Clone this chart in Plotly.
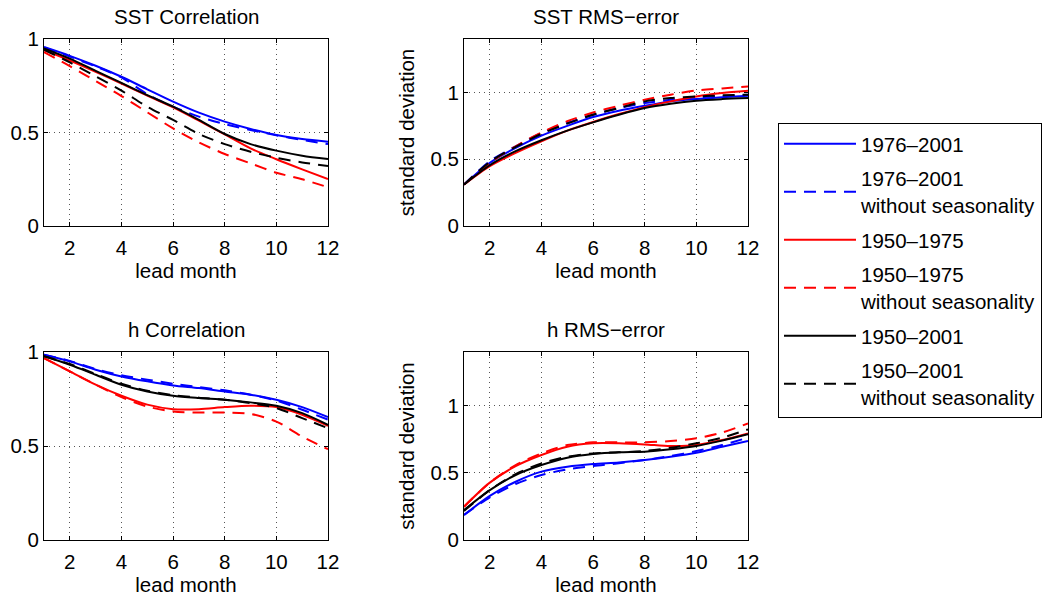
import plotly.graph_objects as go

# ---------------- data ----------------
lead_month = [1, 2, 3, 4, 5, 6, 7, 8, 9, 10, 11, 12]

series_names = [
    "1976–2001",
    "1976–2001<br>without seasonality",
    "1950–1975",
    "1950–1975<br>without seasonality",
    "1950–2001",
    "1950–2001<br>without seasonality",
]

# SST correlation
sst_corr_7601 = [0.957, 0.910, 0.857, 0.798, 0.731, 0.665, 0.606, 0.558, 0.519, 0.487, 0.465, 0.451]
sst_corr_7601_ns = [0.955, 0.906, 0.853, 0.795, 0.705, 0.638, 0.585, 0.545, 0.513, 0.485, 0.460, 0.438]
sst_corr_5075 = [0.940, 0.885, 0.825, 0.762, 0.697, 0.634, 0.563, 0.490, 0.415, 0.357, 0.303, 0.251]
sst_corr_5075_ns = [0.930, 0.855, 0.775, 0.695, 0.608, 0.522, 0.447, 0.385, 0.335, 0.285, 0.250, 0.207]
sst_corr_5001 = [0.950, 0.895, 0.830, 0.765, 0.700, 0.638, 0.567, 0.492, 0.438, 0.403, 0.376, 0.358]
sst_corr_5001_ns = [0.943, 0.875, 0.800, 0.724, 0.638, 0.567, 0.492, 0.438, 0.397, 0.365, 0.340, 0.321]

# SST RMS-error (in standard deviations)
sst_rms_7601 = [0.31, 0.473, 0.585, 0.677, 0.750, 0.816, 0.863, 0.900, 0.933, 0.950, 0.963, 0.975]
sst_rms_7601_ns = [0.31, 0.485, 0.597, 0.697, 0.771, 0.833, 0.883, 0.920, 0.945, 0.963, 0.973, 0.983]
sst_rms_5075 = [0.31, 0.448, 0.547, 0.634, 0.714, 0.779, 0.838, 0.890, 0.933, 0.970, 0.995, 1.012]
sst_rms_5075_ns = [0.31, 0.473, 0.597, 0.700, 0.784, 0.850, 0.900, 0.945, 0.983, 1.015, 1.030, 1.045]
sst_rms_5001 = [0.31, 0.455, 0.560, 0.642, 0.714, 0.776, 0.833, 0.883, 0.915, 0.938, 0.950, 0.958]
sst_rms_5001_ns = [0.31, 0.480, 0.592, 0.690, 0.767, 0.833, 0.883, 0.933, 0.958, 0.970, 0.978, 0.983]

# h correlation
h_corr_7601 = [0.986, 0.950, 0.906, 0.870, 0.844, 0.822, 0.808, 0.790, 0.773, 0.746, 0.707, 0.654]
h_corr_7601_ns = [0.986, 0.953, 0.909, 0.876, 0.853, 0.831, 0.813, 0.796, 0.773, 0.742, 0.693, 0.640]
h_corr_5075 = [0.968, 0.897, 0.826, 0.767, 0.720, 0.696, 0.696, 0.707, 0.714, 0.707, 0.666, 0.607]
h_corr_5075_ns = [0.968, 0.897, 0.826, 0.760, 0.710, 0.684, 0.678, 0.678, 0.671, 0.630, 0.550, 0.483]
h_corr_5001 = [0.977, 0.932, 0.879, 0.826, 0.790, 0.767, 0.755, 0.746, 0.732, 0.714, 0.675, 0.613]
h_corr_5001_ns = [0.977, 0.936, 0.883, 0.831, 0.794, 0.771, 0.757, 0.746, 0.728, 0.702, 0.648, 0.595]

# h RMS-error (in standard deviations)
h_rms_7601 = [0.186, 0.328, 0.434, 0.509, 0.546, 0.566, 0.578, 0.596, 0.620, 0.650, 0.695, 0.737]
h_rms_7601_ns = [0.186, 0.318, 0.417, 0.484, 0.526, 0.551, 0.571, 0.596, 0.625, 0.662, 0.707, 0.762]
h_rms_5075 = [0.248, 0.427, 0.550, 0.633, 0.695, 0.720, 0.720, 0.712, 0.700, 0.707, 0.744, 0.794]
h_rms_5075_ns = [0.248, 0.427, 0.558, 0.645, 0.707, 0.727, 0.727, 0.727, 0.737, 0.757, 0.800, 0.868]
h_rms_5001 = [0.223, 0.372, 0.484, 0.558, 0.613, 0.640, 0.653, 0.658, 0.675, 0.700, 0.740, 0.787]
h_rms_5001_ns = [0.216, 0.372, 0.491, 0.570, 0.620, 0.645, 0.653, 0.663, 0.687, 0.720, 0.762, 0.824]

x_tick_vals = [2, 4, 6, 8, 10, 12]
y_tick_vals = [0, 0.5, 1]
y_tick_text = ["0", "0.5", "1"]

panel_titles = ["SST Correlation", "SST RMS−error", "h Correlation", "h RMS−error"]
x_label = "lead month"
y_label_rms = "standard deviation"

panels = [
    [sst_corr_7601, sst_corr_7601_ns, sst_corr_5075, sst_corr_5075_ns, sst_corr_5001, sst_corr_5001_ns],
    [sst_rms_7601, sst_rms_7601_ns, sst_rms_5075, sst_rms_5075_ns, sst_rms_5001, sst_rms_5001_ns],
    [h_corr_7601, h_corr_7601_ns, h_corr_5075, h_corr_5075_ns, h_corr_5001, h_corr_5001_ns],
    [h_rms_7601, h_rms_7601_ns, h_rms_5075, h_rms_5075_ns, h_rms_5001, h_rms_5001_ns],
]

# ---------------- styles ----------------
colors = ["#0000ff", "#0000ff", "#ff0000", "#ff0000", "#000000", "#000000"]
dashes = ["solid", "12px,8px", "solid", "12px,8px", "solid", "12px,8px"]
FONT = "Liberation Sans, Arial, Helvetica, sans-serif"
FS = 20.5

W, H = 1053, 597
# pixel boxes of the four axes (left, right, top, bottom)
boxes = [(44, 328, 39, 226), (464, 748, 39, 226), (44, 328, 352, 540), (464, 748, 352, 540)]
y_ranges = [[0, 1], [0, 1.4], [0, 1], [0, 1.4]]

fig = go.Figure()
for p, series in enumerate(panels):
    xa = "x" if p == 0 else f"x{p+1}"
    ya = "y" if p == 0 else f"y{p+1}"
    for s, vals in enumerate(series):
        fig.add_trace(go.Scatter(
            x=lead_month, y=vals, mode="lines",
            line=dict(color=colors[s], width=2, dash=dashes[s], shape="spline", smoothing=0.8),
            name=series_names[s], legendgroup=f"g{s}", showlegend=(p == 0),
            xaxis=xa, yaxis=ya,
        ))

axis_common = dict(
    showline=True, linecolor="black", linewidth=1, mirror="ticks",
    ticks="inside", ticklen=4, tickcolor="black",
    showgrid=True, gridcolor="#555555", griddash="1px,4px", gridwidth=1,
    zeroline=False, tickfont=dict(family=FONT, size=FS, color="black"),
)

layout = dict(
    width=W, height=H, margin=dict(l=0, r=0, t=0, b=0, autoexpand=False),
    paper_bgcolor="white", plot_bgcolor="white",
    font=dict(family=FONT, size=FS, color="black"),
    showlegend=True,
    legend=dict(
        x=778 / W, y=1 - 123 / H, xanchor="left", yanchor="top",
        bordercolor="black", borderwidth=1, bgcolor="white",
        font=dict(family=FONT, size=FS, color="black"),
        tracegroupgap=5, itemwidth=72,
    ),
)
annotations = []
for p, (l, r, t, b) in enumerate(boxes):
    sfx = "" if p == 0 else str(p + 1)
    xax = dict(axis_common, domain=[l / W, r / W], range=[1, 12], tickvals=x_tick_vals,
               anchor=f"y{sfx}", ticklabelstandoff=3,
               title=dict(text=x_label, font=dict(family=FONT, size=FS), standoff=2))
    yax = dict(axis_common, domain=[1 - b / H, 1 - t / H], range=y_ranges[p],
               tickvals=y_tick_vals, ticktext=y_tick_text, anchor=f"x{sfx}",
               ticklabelstandoff=0)
    if p in (1, 3):
        yax["title"] = dict(text=y_label_rms, font=dict(family=FONT, size=FS), standoff=10)
    layout[f"xaxis{sfx}"] = xax
    layout[f"yaxis{sfx}"] = yax
    annotations.append(dict(
        text=panel_titles[p], xref="paper", yref="paper",
        x=(l + r) / 2 / W, y=1 - (t - 9) / H, xanchor="center", yanchor="bottom",
        showarrow=False, font=dict(family=FONT, size=FS, color="black"),
    ))
layout["annotations"] = annotations
fig.update_layout(**layout)

fig.write_html("out.html", config={"displayModeBar": False},
               post_script="document.body.style.margin='0';")
